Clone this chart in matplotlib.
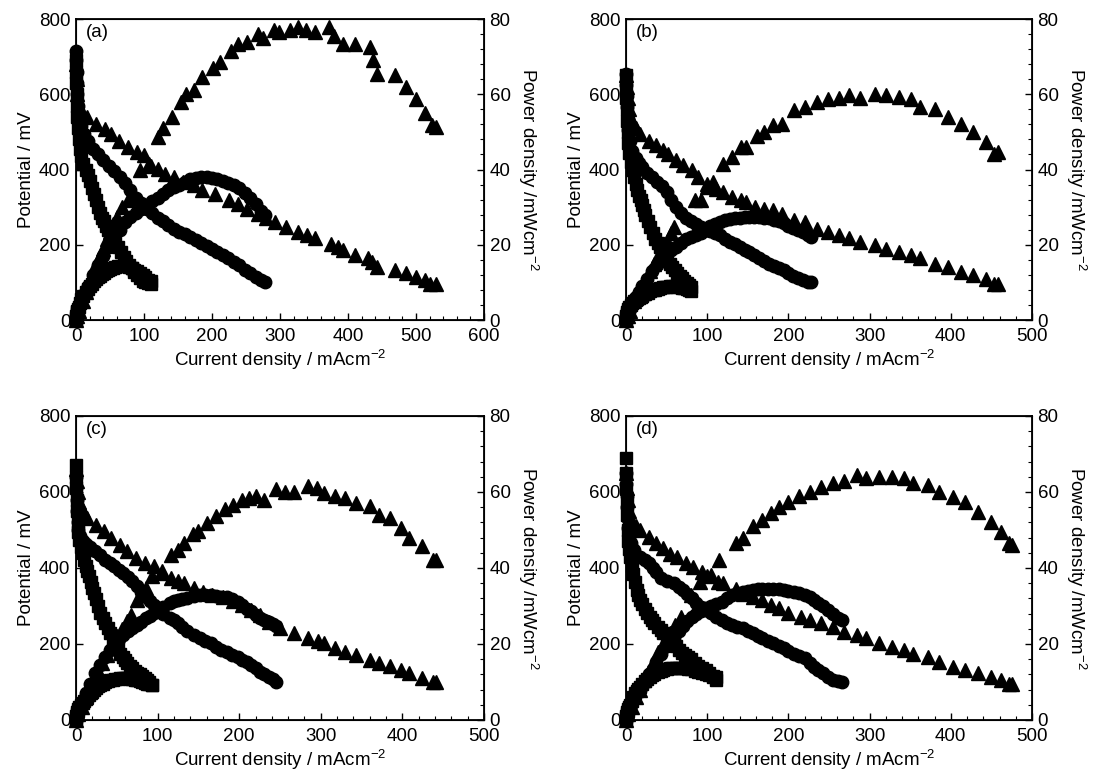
import matplotlib
matplotlib.use('Agg')
import matplotlib.pyplot as plt
from matplotlib.ticker import MultipleLocator

plt.rcParams['font.family'] = ['Liberation Sans', 'DejaVu Sans']
plt.rcParams['mathtext.fontset'] = 'custom'
plt.rcParams['mathtext.rm'] = 'Liberation Sans'
plt.rcParams['mathtext.it'] = 'Liberation Sans'

# ---------------- Panel (a) ----------------
a_sq_I = [0,0,0,1,1,2,3,4,6,8,11,14,17,20,23,26,29,32,35,38,41,44,47,50,54,58,62,66,70,74,78,82,86,90,94,98,102,106,110]
a_sq_V = [690,660,630,600,570,540,510,480,455,435,415,398,385,370,352,335,318,300,285,272,262,250,240,228,215,205,195,182,168,157,146,137,128,120,112,104,100,98,97]
a_sq_P = [0,0.5,1,1.5,2,2.5,3,3.5,4.5,5.5,6.5,7.5,8.3,9,9.7,10.3,10.8,11.3,11.8,12.2,12.6,13,13.3,13.6,13.9,14.1,14.3,14.4,14.4,14.3,14.1,13.8,13.4,13,12.5,12,11.3,10.7,10.3]

a_ci_I = [0,0,1,1,2,3,5,8,12,18,25,32,40,48,56,64,72,80,88,96,104,112,120,128,136,144,152,160,168,176,184,192,200,208,216,224,232,240,248,256,264,272,278]
a_ci_V = [715,690,660,630,600,570,540,515,495,475,455,440,425,410,395,380,365,345,325,310,295,285,272,262,252,243,235,228,220,212,205,197,190,182,172,164,155,146,133,125,115,105,100]
a_ci_P = [0,0.5,1,1.5,2,2.5,3.5,5,7,9,12,14.5,17,19.5,22,24,26,27.5,28.5,29.5,30.5,31.5,32.5,33.5,34.5,35.3,36,36.8,37.4,37.8,38,38,37.8,37.5,37,36.5,35.8,35,33.8,32.5,30.8,29,27.8]

a_tri_I = [0,1,2,4,8,16,29,42,52,63,76,89,100,107,120,131,144,157,173,186,204,225,238,251,267,280,293,309,327,340,351,375,385,393,411,430,435,443,469,485,500,513,521,529]
a_tri_V = [680,640,600,570,550,539,522,508,495,477,460,446,438,415,402,389,380,367,358,345,336,318,309,296,283,270,261,248,234,225,217,203,195,186,172,164,155,141,133,124,115,106,97,97]
a_tri_Ip = [0,2,5,10,15,20,25,30,35,40,45,50,55,60,68,76,94,110,120,128,141,155,162,173,186,202,212,228,238,251,267,275,291,299,314,327,338,351,372,380,393,411,432,437,443,469,485,500,513,524,529]
a_tri_P = [0,1,2.5,5,7.5,10,12.5,15,17,19,21.5,23.5,25.5,27.5,30,32,40,41,48.6,51,54,58,60,61,64.5,67,68.5,71.6,73.4,74,76,75,77,76.5,77,78,77,76.5,78,75.6,73.4,73.4,72.5,69,65.4,65,62,58.8,55,51.7,51.3]

# ---------------- Panel (b) ----------------
b_sq_I = [0,0,0,1,1,2,3,4,6,8,10,12,14,16,18,20,22,24,27,30,33,36,39,42,45,48,51,54,57,60,63,66,69,72,75,78,80]
b_sq_V = [650,620,590,560,530,500,470,445,420,400,380,362,345,330,318,305,292,280,262,246,230,216,204,193,180,168,160,150,142,134,126,118,111,104,98,92,88]
b_sq_P = [0,0.5,1,1.5,2,2.5,3,3.5,4,4.5,5,5.3,5.6,5.9,6.2,6.5,6.8,7,7.3,7.6,7.9,8.1,8.3,8.5,8.7,8.8,8.9,9,9,9,8.9,8.8,8.6,8.4,8.2,8,7.8]

b_ci_I = [0,0,1,1,2,3,5,8,12,16,20,26,32,38,44,50,56,62,68,74,80,86,92,98,104,110,116,122,128,134,140,146,152,158,164,170,176,182,188,194,200,206,212,218,224,228]
b_ci_V = [655,625,595,565,535,505,475,450,430,418,406,392,380,368,355,340,320,300,285,272,262,255,248,242,237,232,225,215,208,201,194,187,180,172,165,158,150,143,138,132,124,118,112,106,102,100]
b_ci_P = [0,0.5,1,1.5,2,2.5,3,4.5,6,7.5,9,11,13,14.5,16,17.5,18.5,19.5,20.5,21.5,22,22.5,23,24,25,25.5,26,26.5,26.8,27,27.2,27.4,27.5,27.5,27.4,27.2,27,26.6,26.2,25.7,25,24.5,24,23.5,22.5,22]

b_tri_I = [0,1,2,4,8,12,17,28,37,46,52,61,70,81,89,100,111,120,131,142,148,159,170,181,192,207,220,235,249,262,275,288,307,320,336,351,362,381,397,412,427,443,453,458]
b_tri_V = [650,620,590,560,530,510,495,477,464,451,442,424,411,398,380,362,349,340,327,318,314,301,296,292,283,265,261,243,234,225,217,208,199,190,181,172,164,150,141,128,119,110,97,97]
b_tri_Ip = [0,2,5,10,15,20,25,30,35,40,45,50,55,59,85,92,100,107,120,131,142,148,161,170,181,192,207,220,235,249,262,275,288,307,320,336,351,362,381,397,412,427,443,453,458]
b_tri_P = [0,1,2.5,5,7,9,11,13,15,17,19,21,23,24.7,31.8,32,35.4,36.7,41.5,43.3,46,46,49,50,51.7,52,55.7,56.6,58,58.8,59,59.7,59,60,59.7,59.2,58.8,56.6,56,54,52,50,47.3,44.2,44.6]

# ---------------- Panel (c) ----------------
c_sq_I = [0,0,0,1,1,2,3,4,6,8,10,12,14,16,18,20,22,24,27,30,33,36,39,42,45,48,51,54,57,60,63,66,69,72,75,78,81,84,87,90,93]
c_sq_V = [670,640,610,580,550,520,495,475,455,440,420,405,391,378,362,347,333,318,300,282,268,255,242,228,212,198,186,175,166,158,150,143,136,130,125,120,115,110,105,100,92]
c_sq_P = [0,0.5,1,1.5,2,2.5,3,3.5,4,4.5,5,5.5,6,6.5,7,7.5,8,8.5,9,9.3,9.6,9.9,10.2,10.4,10.6,10.8,10.9,11,11,11,11,10.9,10.8,10.6,10.4,10.2,10,9.8,9.6,9.4,9.2]

c_ci_I = [0,0,1,1,2,3,5,8,12,17,23,29,36,42,47,53,58,64,69,75,80,86,91,96,100,107,115,120,125,130,136,144,152,158,165,172,178,185,191,198,204,210,215,221,226,231,236,241,245]
c_ci_V = [640,610,580,550,520,500,485,472,462,454,444,433,422,412,404,396,387,376,365,352,338,325,312,302,294,280,268,262,255,245,233,224,215,208,202,193,185,178,171,165,158,152,145,136,127,120,114,108,101]
c_ci_P = [0,0.5,1,1.5,2,2.5,3.5,5,7,9.5,12.5,14.5,16.5,18.5,20,21.2,22.4,23.4,24.2,25,25.8,26.8,27.5,28.2,28.7,29.7,30.8,31.3,31.6,31.9,32.2,32.6,33,33,32.8,32.6,32.5,32.3,31.9,31,30.3,29.3,28.8,27.7,26.8,26.2,25.8,25.2,24.7]

c_tri_I = [0,1,2,4,8,14,25,34,43,54,62,73,84,95,106,117,125,132,145,156,167,180,193,204,215,226,236,250,267,284,297,304,317,330,343,360,371,385,398,408,424,437,441]
c_tri_V = [660,630,600,575,550,532,514,497,479,461,444,426,413,404,391,374,365,360,347,338,330,325,312,303,290,277,259,242,229,215,207,202,189,180,171,158,149,141,132,123,110,101,101]
c_tri_Ip = [0,3,7,12,17,22,27,32,38,44,50,56,62,67,75,86,93,106,117,125,132,143,149,160,171,182,193,204,212,221,230,245,256,267,284,295,304,317,330,343,360,371,385,398,408,424,437,441]
c_tri_P = [0,1.5,3.5,6,8.5,11,13,15,17,19.5,22,24,26,27.7,31.6,34.7,38,38.7,43.5,44.8,46.6,49,49.7,51.9,53.6,55.4,56.7,58,58.5,58.9,58,60.7,60,60,61.5,61,59.8,58.9,58.5,57,56.3,54,53.2,50.5,48,45.7,42.2,42.2]

# ---------------- Panel (d) ----------------
d_sq_I = [0,0,0,1,1,2,3,4,5,7,9,11,13,15,17,20,23,26,29,32,35,39,43,46,50,54,57,61,65,69,73,76,80,85,89,94,98,102,107,111]
d_sq_V = [690,650,610,570,540,500,470,450,430,405,385,362,342,330,316,304,293,281,272,263,254,245,236,228,219,210,202,194,184,177,172,167,160,149,142,136,132,124,114,105]
d_sq_P = [0,0.5,1,1.5,2,2.5,3,3.5,4,5,6,7,7.6,8.2,8.7,9.5,10.2,10.9,11.4,11.8,12.2,12.6,13,13.2,13.4,13.6,13.7,13.8,13.8,13.7,13.6,13.5,13.3,13,12.7,12.4,12.1,11.8,11.5,11.3]

d_ci_I = [0,0,1,1,2,3,4,6,10,17,23,28,33,37,43,51,59,65,70,75,81,86,92,98,105,111,118,124,131,137,144,150,157,163,168,175,181,188,194,200,207,213,220,226,231,237,242,249,255,261,266]
d_ci_V = [650,620,590,560,530,505,482,465,448,430,420,412,400,390,373,366,360,350,342,331,320,309,298,289,281,272,263,256,250,245,241,234,228,221,215,208,202,195,189,182,175,168,162,151,140,131,123,114,105,102,101]
d_ci_P = [0,0.5,1,1.5,2,2.5,3,4,5.5,8,10,12,13.5,15.3,17.5,19.5,21.5,23.3,24.8,26,27,27.8,28.6,29.4,30,30.5,31,32,32.8,33.3,33.8,34,34.2,34.4,34.6,34.6,34.6,34.4,34.2,34,33.8,33.5,32.9,32.3,31.6,30.7,30,29,27.8,26.8,26.3]

d_tri_I = [0,1,2,4,8,12,17,28,37,46,54,63,74,83,94,104.5,113,120,135,144,157,168,179,189,200,216,226,240,255,268,285,296,311,327,342,353,372,385,403,418,433,449,462,472,475]
d_tri_V = [650,610,580,550,520,510,500,482,465,452,438,430,412,403,390,381,364,360,345,332,324,316,302,294,281,272,263,254,246,232,224,215,202,193,184,175,167,153,140,132,123,114,105,96,96]
d_tri_Ip = [0,3,7,12,17,22,27,33,40,47,54,60,67.5,80.6,91.5,100,115,135,144,157,168,179,189,200,213,226,240,255,268,285,296,311,327,342,353,372,385,403,418,433,449,462,472,475]
d_tri_P = [0,1.5,3.5,6,8,10.5,12.5,15,18,20.5,23,25,27,33,36.4,38,42,46.5,47.8,51,52.6,54.4,56,57.4,59,60,61.4,62.3,63,64.5,63.6,64,64,63.6,62.3,61.8,60,58.8,57.4,54.8,52.2,49.6,46.5,46]

panel_labels = ['(a)', '(b)', '(c)', '(d)']
x_max = [600, 500, 500, 500]
x_label = 'Current density / mAcm$^{-2}$'
y_label = 'Potential / mV'
y2_label = 'Power density /mWcm$^{-2}$'

panels = [
    dict(sq=(a_sq_I, a_sq_V, a_sq_P), ci=(a_ci_I, a_ci_V, a_ci_P), tri=(a_tri_I, a_tri_V, a_tri_Ip, a_tri_P)),
    dict(sq=(b_sq_I, b_sq_V, b_sq_P), ci=(b_ci_I, b_ci_V, b_ci_P), tri=(b_tri_I, b_tri_V, b_tri_Ip, b_tri_P)),
    dict(sq=(c_sq_I, c_sq_V, c_sq_P), ci=(c_ci_I, c_ci_V, c_ci_P), tri=(c_tri_I, c_tri_V, c_tri_Ip, c_tri_P)),
    dict(sq=(d_sq_I, d_sq_V, d_sq_P), ci=(d_ci_I, d_ci_V, d_ci_P), tri=(d_tri_I, d_tri_V, d_tri_Ip, d_tri_P)),
]

W, H = 1103, 781
boxes = [(76, 19, 484, 320), (626, 19, 1032, 320), (76, 416, 484, 720), (626, 416, 1032, 720)]

fig = plt.figure(figsize=(W / 100, H / 100), dpi=100)
FS = 13.5

def style(ax):
    for s in ax.spines.values():
        s.set_linewidth(1.3)

for i, (box, pdata) in enumerate(zip(boxes, panels)):
    l, t, r, b = box
    ax = fig.add_axes([l / W, 1 - b / H, (r - l) / W, (b - t) / H])
    ax2 = ax.twinx()
    style(ax)
    kw = dict(linestyle='none', color='black', mec='black', clip_on=False)
    sI, sV, sP = pdata['sq']
    cI, cV, cP = pdata['ci']
    tI, tV, tIp, tP = pdata['tri']
    ax.plot(tI, tV, marker='^', ms=10, **kw)
    ax.plot(cI, cV, marker='o', ms=9, **kw)
    ax.plot(sI, sV, marker='s', ms=8, **kw)
    ax2.plot(tIp, tP, marker='^', ms=10, **kw)
    ax2.plot(cI, cP, marker='o', ms=9, **kw)
    ax2.plot(sI, sP, marker='s', ms=8, **kw)

    ax.set_xlim(0, x_max[i])
    ax.set_ylim(0, 800)
    ax2.set_ylim(0, 80)
    ax.xaxis.set_major_locator(MultipleLocator(100))
    ax.xaxis.set_minor_locator(MultipleLocator(20))
    ax.yaxis.set_major_locator(MultipleLocator(200))
    ax2.yaxis.set_major_locator(MultipleLocator(20))
    ax2.yaxis.set_minor_locator(MultipleLocator(4))

    ax.tick_params(axis='y', which='major', direction='in', length=5, width=1,
                   labelsize=FS, pad=4)
    ax.tick_params(axis='x', which='major', direction='in', length=5, width=1,
                   labelsize=FS, pad=6)
    ax.tick_params(axis='x', which='minor', direction='in', length=3, width=0.8)
    ax.tick_params(axis='y', which='minor', left=False)
    ax2.tick_params(axis='y', which='major', direction='in', length=5, width=1,
                    labelsize=FS, pad=4)
    ax2.tick_params(axis='y', which='minor', direction='in', length=3, width=0.8)

    ax.set_xlabel(x_label, fontsize=FS, labelpad=2)
    ax.set_ylabel(y_label, fontsize=FS, labelpad=3)
    ax2.set_ylabel(y2_label, fontsize=FS, rotation=270, va='bottom', labelpad=4)
    ax.text(0.025, 0.985, panel_labels[i], transform=ax.transAxes, fontsize=FS,
            ha='left', va='top')

fig.savefig('out.png', dpi=100)
